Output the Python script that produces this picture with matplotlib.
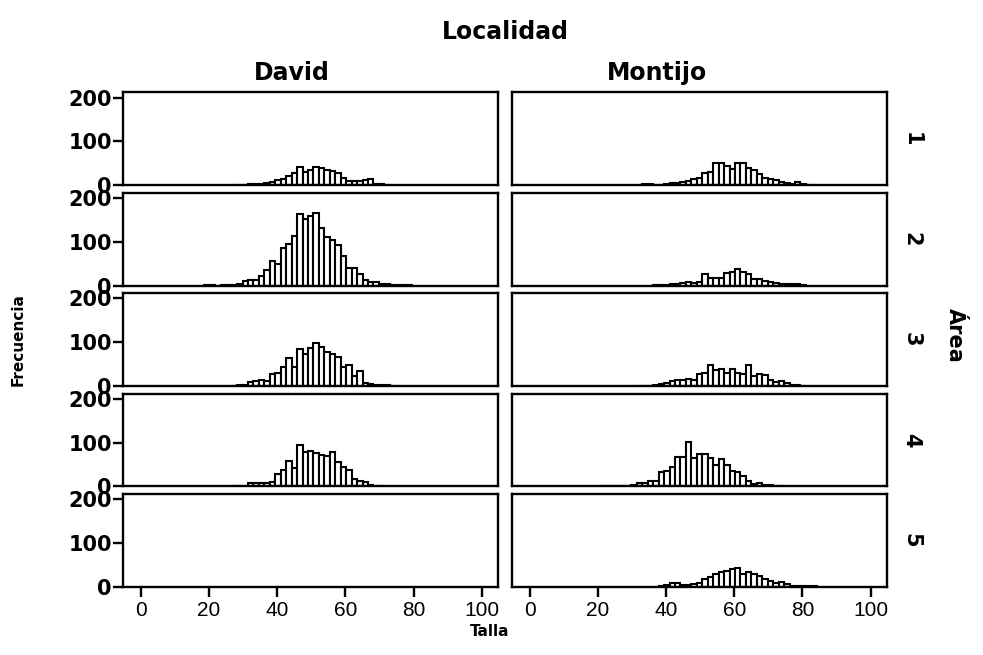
import numpy as np
import matplotlib.pyplot as plt

# Histogram bins: every bar is 1.6 cm wide, left edges at 1.0 + 1.6 * k
BIN_WIDTH = 1.6
BIN_ORIGIN = 1.0

localidades = ["David", "Montijo"]
areas = ["1", "2", "3", "4", "5"]

# first bin index and counts per (localidad, área)
david_1_first = 17
david_1 = [1, 1, 2, 2, 2, 6, 8, 11, 14, 22, 27, 42, 30, 36, 42, 39, 36, 33, 27, 17,
           10, 9, 10, 12, 14, 4, 2, 1]
david_2_first = 11
david_2 = [1, 1, 0, 1, 2, 2, 4, 10, 12, 12, 22, 36, 57, 49, 85, 95, 113, 163, 152, 158,
           165, 132, 111, 105, 93, 68, 41, 41, 26, 12, 8, 8, 4, 3, 2, 1, 2, 1]
david_3_first = 16
david_3 = [1, 2, 3, 10, 12, 13, 12, 27, 29, 43, 64, 43, 85, 74, 87, 99, 89, 78, 74, 66,
           43, 48, 23, 35, 6, 4, 3, 2, 2, 1]
david_4_first = 16
david_4 = [1, 1, 2, 8, 9, 8, 8, 10, 28, 38, 57, 42, 95, 78, 80, 76, 72, 70, 78, 55,
           45, 37, 17, 12, 10, 4, 1, 1]
david_5_first = 0
david_5 = []

montijo_1_first = 20
montijo_1 = [2, 3, 1, 1, 3, 5, 6, 7, 9, 15, 17, 27, 30, 50, 50, 43, 38, 52, 50, 40,
             35, 25, 17, 14, 11, 8, 5, 4, 7, 2, 1]
montijo_2_first = 22
montijo_2 = [1, 1, 2, 3, 5, 6, 8, 7, 8, 26, 17, 17, 18, 29, 32, 38, 32, 26, 16, 15,
             11, 8, 6, 5, 4, 4, 3, 2]
montijo_3_first = 19
montijo_3 = [1, 1, 1, 2, 5, 6, 12, 14, 14, 17, 14, 27, 29, 47, 37, 40, 29, 40, 31, 27,
             47, 23, 27, 25, 14, 9, 12, 6, 3, 2, 1]
montijo_4_first = 12
montijo_4 = [1, 1, 0, 1, 2, 2, 3, 8, 9, 12, 12, 33, 35, 45, 68, 68, 102, 66, 74, 74,
             64, 50, 62, 50, 35, 33, 25, 12, 6, 8, 4, 3, 2, 1]
montijo_5_first = 23
montijo_5 = [2, 5, 9, 8, 5, 5, 7, 8, 17, 22, 29, 33, 36, 40, 43, 30, 33, 30, 24, 17,
             13, 9, 12, 6, 3, 2, 2, 1, 1]

panels = {
    ("David", "1"): (david_1_first, david_1),
    ("David", "2"): (david_2_first, david_2),
    ("David", "3"): (david_3_first, david_3),
    ("David", "4"): (david_4_first, david_4),
    ("David", "5"): (david_5_first, david_5),
    ("Montijo", "1"): (montijo_1_first, montijo_1),
    ("Montijo", "2"): (montijo_2_first, montijo_2),
    ("Montijo", "3"): (montijo_3_first, montijo_3),
    ("Montijo", "4"): (montijo_4_first, montijo_4),
    ("Montijo", "5"): (montijo_5_first, montijo_5),
}

x_ticks = [0, 20, 40, 60, 80, 100]
y_ticks = [0, 100, 200]

BOLD = "DejaVu Sans"
PLAIN = "Liberation Sans"

fig, axes = plt.subplots(5, 2, figsize=(9.83, 6.55), dpi=100, sharex=True, sharey=True)
fig.subplots_adjust(left=0.125, right=0.902, top=0.859, bottom=0.104,
                    wspace=0.037, hspace=0.08)

for row, area in enumerate(areas):
    for col, loc in enumerate(localidades):
        ax = axes[row, col]
        first, counts = panels[(loc, area)]
        if counts:
            lefts = BIN_ORIGIN + BIN_WIDTH * (first + np.arange(len(counts)))
            ax.bar(lefts, counts, width=BIN_WIDTH, align="edge",
                   facecolor="white", edgecolor="black", linewidth=1.5)

        ax.set_xlim(-5.3, 104.7)
        ax.set_ylim(0, 212)
        for side in ax.spines.values():
            side.set_linewidth(1.7)
            side.set_color("black")

        ax.set_yticks(y_ticks)
        ax.set_xticks(x_ticks)
        ax.tick_params(axis="y", direction="out", length=7, width=1.7,
                       left=(col == 0), labelleft=(col == 0), pad=1)
        ax.tick_params(axis="x", direction="out", length=7, width=1.7,
                       bottom=(row == 4), labelbottom=(row == 4), pad=3)
        for lab in ax.get_yticklabels():
            lab.set_fontfamily(BOLD)
            lab.set_fontweight("bold")
            lab.set_fontsize(15)
        for lab in ax.get_xticklabels():
            lab.set_fontfamily(PLAIN)
            lab.set_fontsize(15)

        if col == 1:
            ax.text(1.066, 0.5, area, transform=ax.transAxes, rotation=-90,
                    ha="center", va="center", fontsize=15, fontweight="bold",
                    fontfamily=BOLD)

# column headers and outer labels
fig.text(292 / 983, 1 - 73 / 655, "David", ha="center", va="center",
         fontsize=17, fontweight="bold", fontfamily=BOLD)
fig.text(657 / 983, 1 - 73 / 655, "Montijo", ha="center", va="center",
         fontsize=17, fontweight="bold", fontfamily=BOLD)
fig.text(505 / 983, 1 - 32 / 655, "Localidad", ha="center", va="center",
         fontsize=17, fontweight="bold", fontfamily=BOLD)
fig.text(955 / 983, 1 - 335 / 655, "Área", rotation=-90, ha="center", va="center",
         fontsize=15, fontweight="bold", fontfamily=BOLD)
fig.text(18 / 983, 1 - 340 / 655, "Frecuencia", rotation=90, ha="center", va="center",
         fontsize=11, fontweight="bold", fontfamily=BOLD)
fig.text(490 / 983, 1 - 632 / 655, "Talla", ha="center", va="center",
         fontsize=11, fontweight="bold", fontfamily=BOLD)

fig.savefig("out.png", dpi=100, facecolor="white")
